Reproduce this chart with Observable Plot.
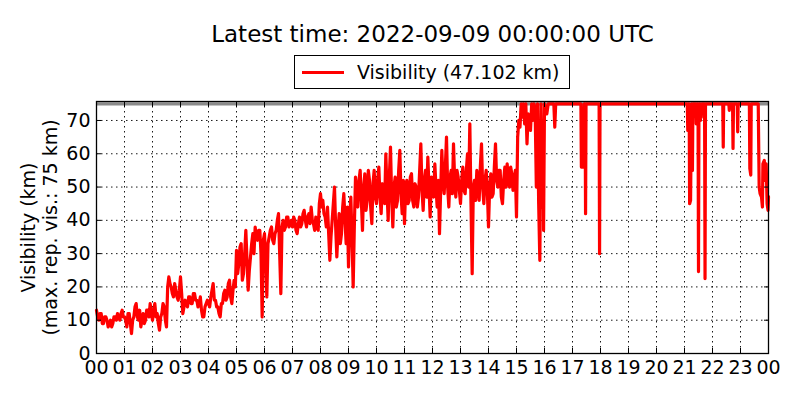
<!DOCTYPE html>
<html>
<head>
<meta charset="utf-8">
<script src="https://cdn.jsdelivr.net/npm/d3@7"></script>
<script src="https://cdn.jsdelivr.net/npm/@observablehq/plot@0.6"></script>
<style>
  html, body { margin: 0; padding: 0; background: white; }
  #wrap { position: relative; width: 800px; height: 400px; font-family: "DejaVu Sans", sans-serif; }
  #legend { position: absolute; left: 294px; top: 55px; width: 274px; height: 32px; border: 1.3px solid black; background: white; }
  #legend .swatch { position: absolute; left: 7px; top: 14.5px; width: 42px; height: 3px; background: red; }
  #legend .label { position: absolute; left: 62px; top: 0; line-height: 33px; font-size: 19px; color: black; white-space: nowrap; }
</style>
</head>
<body>
<div id="wrap"></div>
<script>
// ---- data ----
const titleText = "Latest time: 2022-09-09 00:00:00 UTC";
const legendText = "Visibility (47.102 km)";
const yLabelText = "Visibility (km)\n(max. rep. vis.: 75 km)";
const maxReported = 75;
const tickLabels = ["00","01","02","03","04","05","06","07","08","09","10","11",
                    "12","13","14","15","16","17","18","19","20","21","22","23","00"];
const xTicks = [0,60,120,180,240,300,360,420,480,540,600,660,720,780,840,900,960,1020,1080,1140,1200,1260,1320,1380,1440];
const yTicks = [0,10,20,30,40,50,60,70];
const stepMinutes = 2.5;

// visibility (km) every 2.5 minutes, 00:00-03:57.5 (one row per hour)
const visH00 = [
  13,11,10,12,12,9,9,11,11,10,8,9,10,8,9,11,11,10,12,11,10,12,13,11,
  11,10,8,12,12,9,6,10,11,14,15,11,10,13,8,10,12,9,10,13,13,11,15,12,
  10,13,15,11,12,9,7,11,12,15,14,10,8,20,23,21,20,18,17,21,19,17,16,19,
  23,18,12,14,16,15,14,17,17,15,15,18,18,16,16,14,15,17,13,11,11,14,15,16
];
// 04:00-07:57.5
const visH04 = [
  15,14,17,19,21,16,16,14,14,12,11,15,15,18,19,16,17,21,22,17,15,19,22,20,
  31,24,27,32,33,22,24,30,37,28,19,25,29,33,36,30,38,35,34,37,37,30,11,34,
  36,28,17,33,35,37,38,34,33,36,37,40,42,30,18,38,40,37,38,41,41,38,39,40,
  38,41,40,37,36,39,41,38,39,42,43,40,38,41,42,39,44,40,39,37,41,38,37,45
];
// 08:00-11:57.5
const visH08 = [
  48,44,46,42,41,38,44,36,28,35,40,45,50,38,29,37,42,33,36,44,48,40,33,44,
  26,40,47,35,20,38,53,48,44,52,55,46,37,50,54,43,46,55,52,44,39,51,55,47,
  45,52,56,47,42,51,50,45,60,49,40,53,62,47,38,50,53,44,46,55,61,48,42,52,
  39,50,52,45,46,53,54,46,44,51,50,44,47,55,63,49,43,52,55,47,59,50,41,53
];
// 12:00-15:57.5
const visH12 = [
  52,47,57,50,44,52,36,49,61,52,48,56,65,50,44,53,55,48,63,52,47,55,53,49,
  45,52,56,49,48,55,60,50,69,45,24,50,52,46,55,51,46,56,63,50,45,52,55,49,
  38,50,54,47,48,56,63,52,50,55,55,47,45,52,56,50,57,52,50,56,54,49,52,55,
  41,65,70,68,75,71,75,69,75,63,72,68,67,75,70,75,73,50,75,45,28,75,44,60
];
// after 15:57.5: minute of day and visibility at each change
const lateMinutes = [958,960,965,968,980,982,984,1038,1039,1044,1045,1047,1048,1049,1077,1078,1079,
  1266,1267,1268,1270,1271,1273,1275,1276,1277,1278,1284,1285,1286,1289,1290,1291,1293,1294,1295,1296,1297,1303,1304,1305,
  1342,1343,1344,1355,1356,1357,1363,1364,1365,1373,1374,1375,
  1399,1400,1402,1403,1418,1420,1422,1425,1427,1428,1431,1433,1435,1437,1439,1440];
const lateVis = [37,75,72,75,75,68,75,75,56,56,75,75,42,75,75,30,75,
  75,67,75,75,45,46,75,75,55,75,75,69,75,75,24.6,75,75,70,75,71,75,75,22.5,75,
  75,62,75,75,73,75,75,61.6,75,75,66.6,75,
  75,55.6,53.6,75,75,50,48,47,44,57,58,52,57,45,43,47.102];

// ---- build table ----
const early = [...visH00, ...visH04, ...visH08, ...visH12].map((v, i) => ({t: i * stepMinutes, v}));
const late = lateMinutes.map((t, i) => ({t, v: lateVis[i]}));
const series = early.concat(late);

const font = "DejaVu Sans, sans-serif";
const gridStyle = {stroke: "black", strokeOpacity: 0.9, strokeWidth: 1, strokeDasharray: "1.5,3.5"};

const chart = Plot.plot({
  width: 800,
  height: 400,
  marginLeft: 96,
  marginRight: 32,
  marginTop: 101,
  marginBottom: 47,
  style: {fontFamily: font, fontSize: "19px", color: "black", background: "white", overflow: "visible"},
  x: {domain: [0, 1440]},
  y: {domain: [0, 75.7]},
  marks: [
    Plot.gridX(xTicks, gridStyle),
    Plot.gridY(yTicks, gridStyle),
    Plot.ruleY([maxReported], {stroke: "#8a8a8a", strokeWidth: 3.2}),
    Plot.line(series, {x: "t", y: "v", stroke: "red", strokeWidth: 3.2, strokeLinejoin: "round", strokeLinecap: "round"}),
    Plot.frame({stroke: "black", strokeWidth: 1.3}),
    Plot.axisX(xTicks, {anchor: "bottom", tickSize: -5, fill: "none", stroke: "black", label: null}),
    Plot.axisX(xTicks, {anchor: "top", tickSize: -5, fill: "none", stroke: "black", label: null}),
    Plot.axisY(yTicks, {anchor: "left", tickSize: -5, fill: "none", stroke: "black", label: null}),
    Plot.axisY(yTicks, {anchor: "right", tickSize: -5, fill: "none", stroke: "black", label: null}),
    Plot.axisX(xTicks, {anchor: "bottom", tickSize: 0, tickPadding: 7, stroke: "none", fill: "black",
      tickFormat: d => tickLabels[Math.round(d / 60)], label: null, fontSize: 19}),
    Plot.axisY(yTicks, {anchor: "left", tickSize: 0, tickPadding: 6, stroke: "none", fill: "black",
      tickFormat: d => String(d), label: null, fontSize: 19}),
    Plot.text([yLabelText], {frameAnchor: "left", dx: -58, rotate: -90, textAnchor: "middle", lineAnchor: "middle",
      lineHeight: 1.16, fontSize: 19, fill: "black"}),
    Plot.text([titleText], {frameAnchor: "top", dy: -67, textAnchor: "middle", lineAnchor: "middle", fontSize: 23, fill: "black"})
  ]
});

const wrap = document.getElementById("wrap");
wrap.appendChild(chart);
const legend = document.createElement("div");
legend.id = "legend";
legend.innerHTML = `<div class="swatch"></div><div class="label"></div>`;
legend.querySelector(".label").textContent = legendText;
wrap.appendChild(legend);
</script>
</body>
</html>
